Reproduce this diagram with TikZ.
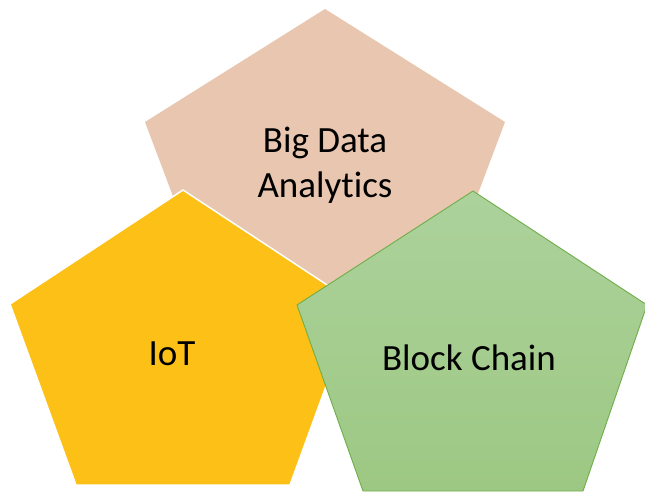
\documentclass[tikz,border=0pt]{standalone}
\usepackage{fontspec}
\setmainfont{Carlito}[Ligatures=NoCommon]
\definecolor{peach}{HTML}{E9C6AF}
\definecolor{iotfill}{HTML}{FCC016}
\definecolor{bctop}{HTML}{ACD29C}
\definecolor{bcbottom}{HTML}{9DC883}
\definecolor{bcline}{HTML}{6FAE4A}
\begin{document}
\begin{tikzpicture}[x=1pt,y=-1pt,
  lbl/.style={font=\fontsize{37}{45}\selectfont, text=black, align=center, inner sep=0pt},
  bdashape/.style={fill=peach, draw=none},
  iotshape/.style={fill=iotfill, draw=white, line width=1.5pt, line join=miter},
  bcshape/.style={draw=bcline, line width=0.9pt, top color=bctop, bottom color=bcbottom}]
\useasboundingbox (0,0) rectangle (645,493);
\fill[white] (0,0) rectangle (645,493);
% Big Data Analytics pentagon
\path[bdashape] (325,9) -- (505,122) -- (436,305) -- (214,305) -- (145,122) -- cycle;
% IoT pentagon
\path[iotshape] (183,190) -- (356,304) -- (290,485) -- (76,485) -- (10,304) -- cycle;
% Block Chain pentagon
\path[bcshape] (473,191) -- (647,305) -- (583,491) -- (363,491) -- (297,305) -- cycle;
\node[lbl] (bda) at (325,165) {Big Data\\Analytics};
\node[lbl] (iot) at (172,354) {IoT};
\node[lbl] (bc) at (469,358) {Block Chain};
\end{tikzpicture}
\end{document}
